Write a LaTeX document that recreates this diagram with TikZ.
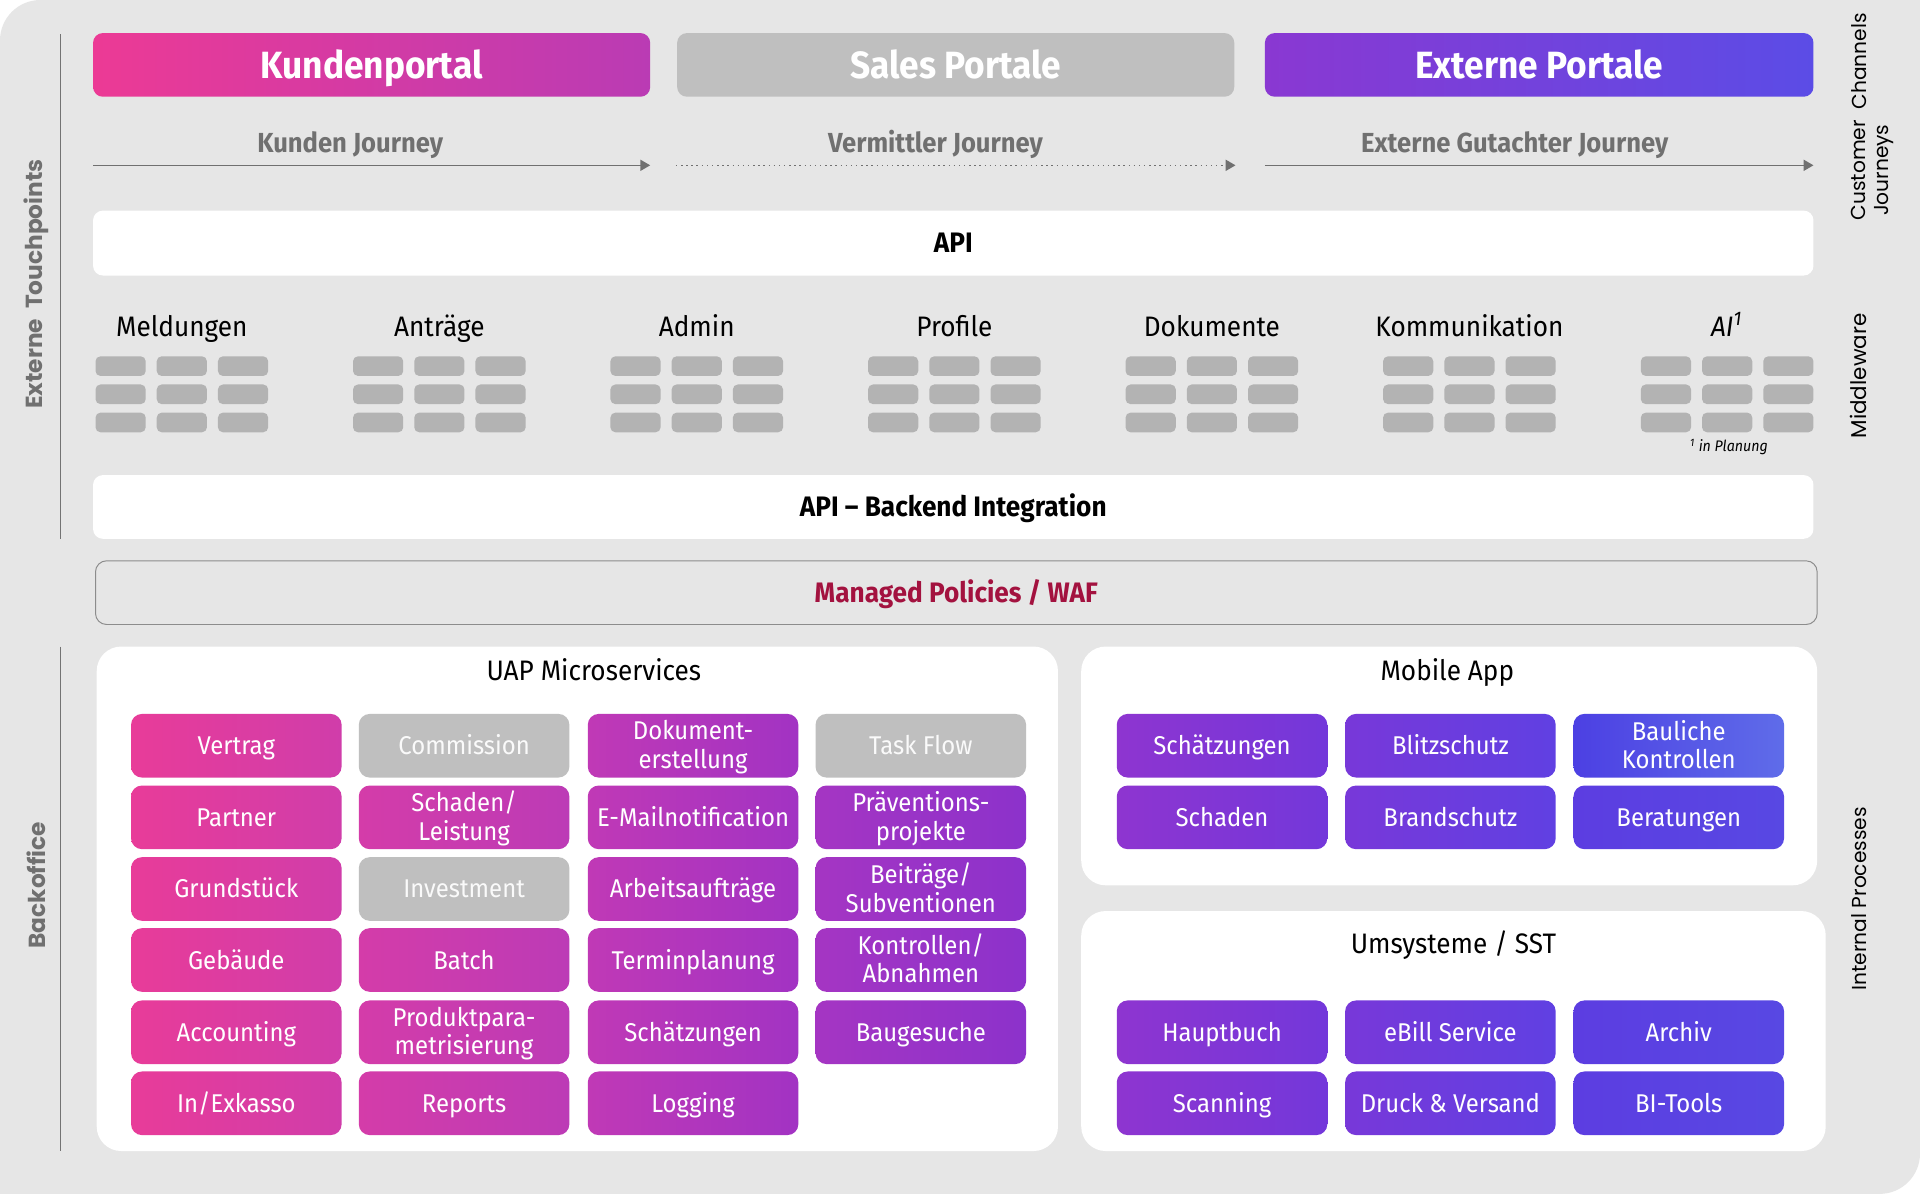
\documentclass[tikz,border=0pt]{standalone}
\usepackage{fontspec}
\setmainfont{Fira Sans}[FakeStretch=0.93]
\newfontfamily\sidefont{Poppins}
\usetikzlibrary{arrows.meta}
\newcommand\mystrutx{\rule[-0.3em]{0pt}{1.3em}}
\newcommand\twol[2]{\smash{\begin{tabular}[c]{@{}c@{}}#1\\#2\end{tabular}}}
\definecolor{bgc}{HTML}{E6E6E6}
\definecolor{kpL}{HTML}{EC3A95}
\definecolor{kpR}{HTML}{BA3BB4}
\definecolor{epL}{HTML}{8A38D2}
\definecolor{epR}{HTML}{5B4CE6}
\definecolor{grayt}{HTML}{BFBFBF}
\definecolor{jtext}{HTML}{707070}
\definecolor{mwbox}{HTML}{B3B3B3}
\definecolor{waf}{HTML}{A3123F}
\definecolor{c1L}{HTML}{E83C99}
\definecolor{c1R}{HTML}{D03DAA}
\definecolor{c2L}{HTML}{D43CA9}
\definecolor{c2R}{HTML}{BC3BB6}
\definecolor{c3L}{HTML}{C039B6}
\definecolor{c3R}{HTML}{A233C3}
\definecolor{c4L}{HTML}{A535C3}
\definecolor{c4R}{HTML}{8C32CB}
\definecolor{m1L}{HTML}{8E35D0}
\definecolor{m1R}{HTML}{7337DA}
\definecolor{m2L}{HTML}{7838D9}
\definecolor{m2R}{HTML}{6040E2}
\definecolor{m3L}{HTML}{5C3DE1}
\definecolor{m3R}{HTML}{5848E3}
\definecolor{m4L}{HTML}{4C40E3}
\definecolor{m4R}{HTML}{5F6CE9}
\tikzset{
  st/.style={execute at begin node=\mystrutx, execute at end node=\mystrutx},
  portal/.style={st, rounded corners=8pt, minimum width=455pt, minimum height=52pt, inner sep=0pt,
    text=white, font=\fontsize{31}{34}\selectfont\bfseries},
  jlabel/.style={st, text=jtext, font=\fontsize{22.5}{25}\selectfont\bfseries, inner sep=0pt},
  jarrow/.style={draw=jtext, line width=1.1pt, -{Triangle[length=8pt,width=9pt]}},
  bar/.style={st, fill=white, rounded corners=8pt, minimum width=1405pt, minimum height=53pt, inner sep=0pt,
    font=\fontsize{23}{26}\selectfont\bfseries},
  mwtitle/.style={st, font=\fontsize{23}{26}\selectfont, inner sep=0pt},
  mwb/.style={fill=mwbox, rounded corners=4pt, minimum width=41pt, minimum height=16pt, inner sep=0pt},
  panel/.style={fill=white, rounded corners=20pt},
  ptitle/.style={st, font=\fontsize{23}{26}\selectfont, inner sep=0pt},
  tile/.style={st, rounded corners=9pt, minimum width=172pt, minimum height=52pt, inner sep=0pt,
    text=white, align=center, font=\fontsize{21}{23}\selectfont},
  t1/.style={tile, left color=c1L, right color=c1R},
  t2/.style={tile, left color=c2L, right color=c2R},
  t3/.style={tile, left color=c3L, right color=c3R},
  t4/.style={tile, left color=c4L, right color=c4R},
  tg/.style={tile, fill=grayt, text=white!96!gray},
  m1/.style={tile, left color=m1L, right color=m1R},
  m2/.style={tile, left color=m2L, right color=m2R},
  m3/.style={tile, left color=m3L, right color=m3R},
  m4/.style={tile, left color=m4L, right color=m4R},
  sidel/.style={rotate=90, text=jtext, font=\sidefont\fontsize{19}{21}\selectfont\bfseries, inner sep=0pt},
  sider/.style={rotate=90, text=black, font=\sidefont\fontsize{16.5}{19}\selectfont, inner sep=0pt, align=center},
  vline/.style={draw=black!55, line width=0.8pt}
}
\begin{document}
\begin{tikzpicture}[x=1pt,y=-1pt]
\useasboundingbox (0,0) rectangle (1568,975);
\fill[white] (0,0) rectangle (1568,975);
\fill[bgc, rounded corners=33pt] (0,0) rectangle (1568,975);
\fill[bgc] (1500,0) rectangle (1568,60);
\fill[bgc] (0,900) rectangle (60,975);

% side lines
\coordinate (l1a) at (49,28); \coordinate (l1b) at (49,440);
\coordinate (l2a) at (49,528); \coordinate (l2b) at (49,940);
\draw[vline] (l1a) -- (l1b);
\draw[vline] (l2a) -- (l2b);

% side labels
\node[sidel] (extt) at (30,232) {Externe\ \ Touchpoints};
\node[sidel] (bo) at (30,723) {Backoffice};
\node[sider] (chan) at (1518,50) {Channels};
\node[sider] (cj) at (1529,139) {Customer\\Journeys};
\node[sider, font=\sidefont\fontsize{17.5}{19}\selectfont] (mw) at (1518,307) {Middleware};
\node[sider] (ip) at (1518,734) {Internal Processes};

% portals
\node[portal, left color=kpL, right color=kpR] (kp) at (303.5,53) {Kundenportal};
\node[portal, fill=grayt] (sp) at (780.5,53) {Sales Portale};
\node[portal, minimum width=448pt, left color=epL, right color=epR] (ep) at (1257,53) {Externe Portale};

% journeys
\node[jlabel] (kj) at (286,117) {Kunden Journey};
\node[jlabel] (vj) at (764,117) {Vermittler Journey};
\node[jlabel] (gj) at (1237,117) {Externe Gutachter Journey};
\coordinate (kjs) at (76,135); \coordinate (kje) at (531,135);
\coordinate (vjs) at (552,135); \coordinate (vje) at (1009,135);
\coordinate (gjs) at (1033,135); \coordinate (gje) at (1481,135);
\draw[jarrow] (kjs) -- (kje);
\draw[jarrow, dash pattern=on 1.2pt off 3pt] (vjs) -- (vje);
\draw[jarrow] (gjs) -- (gje);

% API bars
\node[bar] (api) at (778.5,198.5) {API};
\node[bar, minimum height=52pt] (apib) at (778.5,414) {API -- Backend Integration};

% middleware groups
\foreach \cx/\t/\n in {148.5/Meldungen/g1, 358.8/Anträge/g2, 569/Admin/g3, 779.4/Profile/g4, 989.7/Dokumente/g5, 1200/Kommunikation/g6}{
  \node[mwtitle] (\n) at (\cx,267) {\t};
}
\node[mwtitle] (g7) at (1410,267) {\itshape AI\textsuperscript{1}};
\foreach \cx/\n in {148.5/g1, 358.8/g2, 569/g3, 779.4/g4, 989.7/g5, 1200/g6, 1410.5/g7}{
  \foreach \dx [count=\i] in {-50,0,50}{
    \foreach \yy [count=\j] in {299,322,345}{
      \node[mwb] (\n b\i\j) at (\cx+\dx,\yy) {};
    }
  }
}
\node[font=\fontsize{12.5}{14}\selectfont\itshape, inner sep=0pt] (plan) at (1412,365) {\textsuperscript{1} in Planung};

% WAF
\node[st, draw=black!45, line width=0.8pt, fill=bgc, rounded corners=9pt, minimum width=1406pt, minimum height=52pt,
  inner sep=0pt, text=waf, font=\fontsize{23}{26}\selectfont\bfseries] (waf) at (781,484) {Managed Policies / WAF};

% panels
\node[panel, minimum width=785pt, minimum height=412pt, inner sep=0pt] (uap) at (471.5,734) {};
\node[panel, minimum width=601pt, minimum height=195pt, inner sep=0pt] (mob) at (1183.5,625.5) {};
\node[panel, minimum width=608pt, minimum height=196pt, inner sep=0pt] (ums) at (1187,842) {};
\node[ptitle] (uapt) at (485,548) {UAP Microservices};
\node[ptitle] (mobt) at (1182,548) {Mobile App};
\node[ptitle] (umst) at (1187,771) {Umsysteme / SST};

% UAP tiles
\node[t1] (vertrag) at (193,609) {Vertrag};
\node[t1] (partner) at (193,667.5) {Partner};
\node[t1] (grund) at (193,726) {Grundstück};
\node[t1] (gebaeude) at (193,784) {Gebäude};
\node[t1] (acc) at (193,843) {Accounting};
\node[t1] (inex) at (193,901) {In/Exkasso};

\node[tg] (comm) at (379,609) {Commission};
\node[t2] (schaden) at (379,667.5) {\twol{Schaden/}{Leistung}};
\node[tg] (invest) at (379,726) {Investment};
\node[t2] (batch) at (379,784) {Batch};
\node[t2] (prod) at (379,843) {\twol{Produktpara-}{metrisierung}};
\node[t2] (reports) at (379,901) {Reports};

\node[t3] (dok) at (566,609) {\twol{Dokument-}{erstellung}};
\node[t3] (email) at (566,667.5) {E-Mailnotification};
\node[t3] (arb) at (566,726) {Arbeitsaufträge};
\node[t3] (termin) at (566,784) {Terminplanung};
\node[t3] (schaetz) at (566,843) {Schätzungen};
\node[t3] (logging) at (566,901) {Logging};

\node[tg] (task) at (752,609) {Task Flow};
\node[t4] (praev) at (752,667.5) {\twol{Präventions-}{projekte}};
\node[t4] (beitr) at (752,726) {\twol{Beiträge/}{Subventionen}};
\node[t4] (kontr) at (752,784) {\twol{Kontrollen/}{Abnahmen}};
\node[t4] (bauges) at (752,843) {Baugesuche};

% Mobile tiles
\node[m1] (mschaetz) at (998,609) {Schätzungen};
\node[m2] (blitz) at (1184.5,609) {Blitzschutz};
\node[m4] (baul) at (1371,609) {\twol{Bauliche}{Kontrollen}};
\node[m1] (mschaden) at (998,667.5) {Schaden};
\node[m2] (brand) at (1184.5,667.5) {Brandschutz};
\node[m3] (berat) at (1371,667.5) {Beratungen};

% Umsysteme tiles
\node[m1] (haupt) at (998,843) {Hauptbuch};
\node[m2] (ebill) at (1184.5,843) {eBill Service};
\node[m3] (archiv) at (1371,843) {Archiv};
\node[m1] (scan) at (998,901) {Scanning};
\node[m2] (druck) at (1184.5,901) {Druck \& Versand};
\node[m3] (bitools) at (1371,901) {BI-Tools};
\end{tikzpicture}
\end{document}
